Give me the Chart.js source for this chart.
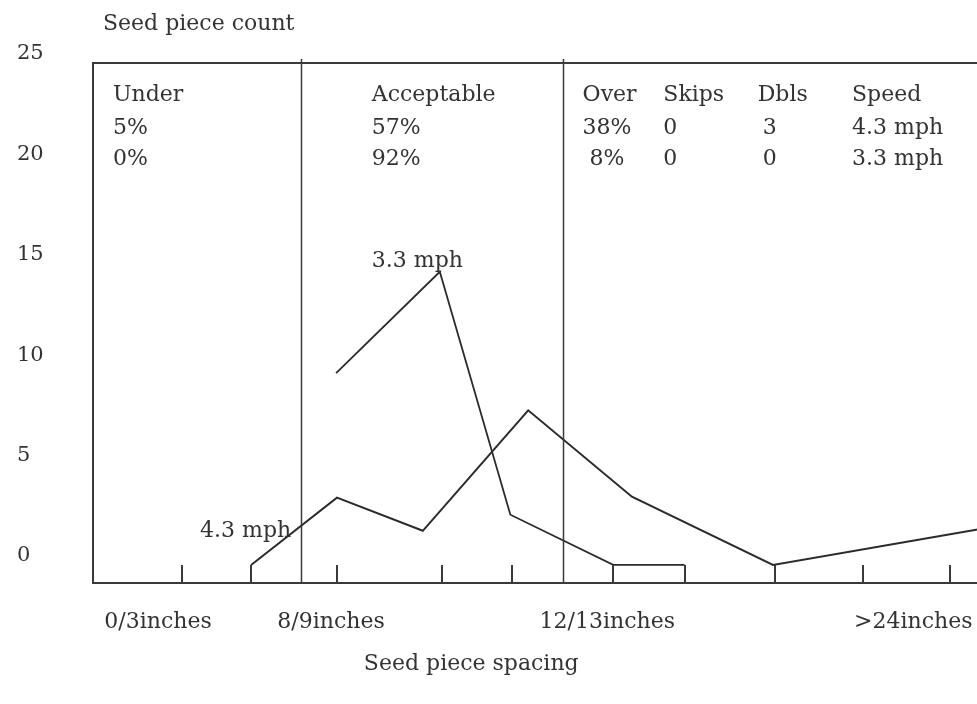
<!DOCTYPE html>
<html lang="en">
<head>
<meta charset="UTF-8">
<title>Seed piece spacing</title>
<script src="https://cdn.jsdelivr.net/npm/chart.js"></script>
<style>
  html, body { margin: 0; padding: 0; background: #fff; overflow: hidden; }
</style>
</head>
<body>
<canvas id="seedChart" width="1060" height="704"></canvas>
<script>
// values
// x is in spacing bins (one bin ~ one tick), y is seed piece count
const fastX = [1.86, 2.87, 3.88, 5.12, 6.34, 8.0, 11.0];
const fastY = [0, 3.35, 1.7, 7.7, 3.4, 0, 2.2];
const slowX = [2.86, 4.08, 4.91, 6.12, 6.96];
const slowY = [9.55, 14.6, 2.5, 0, 0];

const yTicks = [0, 5, 10, 15, 20, 25];
const spacingLabels = ['0/3inches', '8/9inches', '12/13inches', '>24inches'];
const spacingLabelAt = [0.765, 2.8, 6.05, 9.65];
const tickMarks = [1.05, 1.86, 2.87, 4.11, 4.93, 6.12, 6.96, 8.02, 9.06, 10.08];
const dividers = [2.45, 5.53];

const tableHeads = ['Under', 'Acceptable', 'Over', 'Skips', 'Dbls', 'Speed'];
const row43 = ['5%', '57%', '38%', '0', '3', '4.3 mph'];
const row33 = ['0%', '92%', ' 8%', '0', '0', '3.3 mph'];

Chart.defaults.font.family = '"DejaVu Serif", serif';
Chart.defaults.color = '#333';

const ink = '#2b2b2b';

// frame top, dividers, tick marks and all the typed text of the figure
const paperMarks = {
    id: 'paperMarks',
    afterDatasetsDraw(chart) {
        const { ctx, chartArea: a, scales: { x, y } } = chart;
        ctx.save();
        ctx.strokeStyle = '#3a3a3a';
        ctx.lineWidth = 2;
        ctx.beginPath();
        ctx.moveTo(a.left, a.top);
        ctx.lineTo(a.right, a.top);
        ctx.stroke();

        ctx.lineWidth = 1.5;
        dividers.forEach(v => {
            const px = Math.round(x.getPixelForValue(v)) + 0.5;
            ctx.beginPath();
            ctx.moveTo(px, a.bottom);
            ctx.lineTo(px, a.top - 4);
            ctx.stroke();
        });

        ctx.lineWidth = 2;
        const zero = y.getPixelForValue(0);
        tickMarks.forEach(v => {
            const px = Math.round(x.getPixelForValue(v));
            ctx.beginPath();
            ctx.moveTo(px, a.bottom);
            ctx.lineTo(px, zero);
            ctx.stroke();
        });

        ctx.fillStyle = '#333';
        ctx.font = '22px "DejaVu Serif"';
        ctx.textBaseline = 'alphabetic';
        ctx.textAlign = 'left';

        // little table in the top of the frame
        const headX = [0.235, 3.28, 5.76, 6.71, 7.82, 8.93];
        const cellX = [0.235, 3.28, 5.76, 6.71, 7.88, 8.93];
        const rowY = [23.1, 21.45, 19.9];
        tableHeads.forEach((t, i) => ctx.fillText(t, x.getPixelForValue(headX[i]), y.getPixelForValue(rowY[0])));
        row43.forEach((t, i) => ctx.fillText(t, x.getPixelForValue(cellX[i]), y.getPixelForValue(rowY[1])));
        row33.forEach((t, i) => ctx.fillText(t, x.getPixelForValue(cellX[i]), y.getPixelForValue(rowY[2])));

        // speed tags next to the lines
        ctx.fillText(row43[5], x.getPixelForValue(1.26), y.getPixelForValue(1.39));
        ctx.fillText(row33[5], x.getPixelForValue(3.28), y.getPixelForValue(14.84));

        // axis titles
        ctx.fillText('Seed piece count', a.left + 10, 30);
        ctx.textAlign = 'center';
        ctx.fillText('Seed piece spacing', x.getPixelForValue(4.45), 670);
        ctx.restore();
    }
};

const toPoints = (xs, ys) => xs.map((v, i) => ({ x: v, y: ys[i] }));

new Chart(document.getElementById('seedChart'), {
    type: 'line',
    data: {
        datasets: [{
            label: '4.3 mph',
            data: toPoints(fastX, fastY),
            borderColor: ink,
            borderWidth: 2,
            pointRadius: 0,
            tension: 0
        }, {
            label: '3.3 mph',
            data: toPoints(slowX, slowY),
            borderColor: ink,
            borderWidth: 1.8,
            pointRadius: 0,
            tension: 0
        }]
    },
    options: {
        responsive: false,
        animation: false,
        layout: { padding: { left: 17, right: 15, top: 63, bottom: 0 } },
        plugins: {
            legend: { display: false },
            tooltip: { enabled: false }
        },
        scales: {
            x: {
                type: 'linear',
                min: 0,
                max: 11.2,
                grid: { display: false, drawTicks: false },
                border: { display: true, color: '#3a3a3a', width: 2 },
                afterBuildTicks: s => { s.ticks = spacingLabelAt.map(v => ({ value: v })); },
                afterFit: s => { s.height = 121; },
                ticks: {
                    autoSkip: false,
                    maxRotation: 0,
                    padding: 26,
                    color: '#333',
                    font: { size: 22 },
                    callback: (v, i) => spacingLabels[i]
                }
            },
            y: {
                type: 'linear',
                min: -0.9,
                max: 25,
                grid: { display: false, drawTicks: false },
                border: { display: true, color: '#3a3a3a', width: 2 },
                afterBuildTicks: s => { s.ticks = yTicks.map(v => ({ value: v })); },
                afterFit: s => { s.width = 76; },
                ticks: {
                    crossAlign: 'far',
                    labelOffset: -9,
                    padding: 0,
                    color: '#333',
                    font: { size: 21 }
                }
            }
        }
    },
    plugins: [paperMarks]
});
</script>
</body>
</html>
